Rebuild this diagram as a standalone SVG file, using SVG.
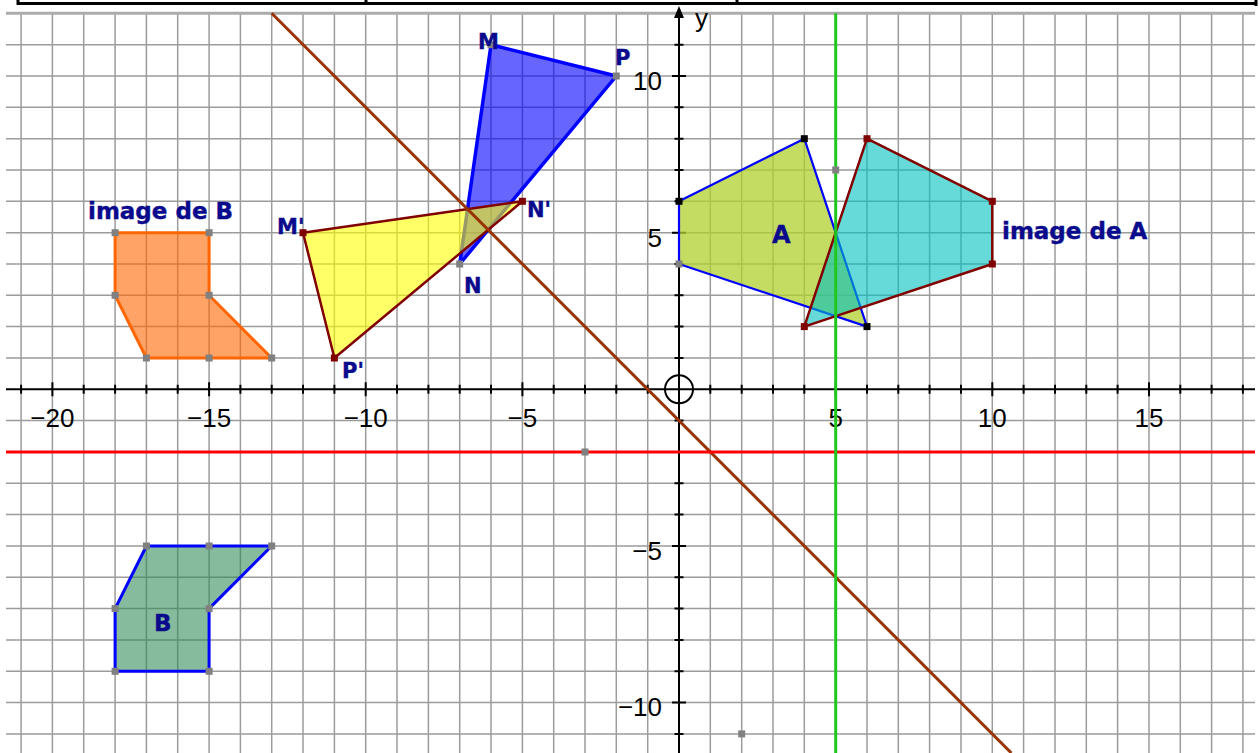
<svg xmlns="http://www.w3.org/2000/svg" width="1259" height="753" viewBox="0 0 1259 753">
<defs>
<style>
.grid{stroke:#9c9c9c;stroke-width:1.5;fill:none}
.ax{stroke:#000;stroke-width:2;fill:none}
.num{font-family:"Liberation Sans",Arial,sans-serif;font-size:26px;fill:#000}
.lbl{font-family:"DejaVu Sans",Verdana,sans-serif;font-weight:bold;fill:#0a0a8c;stroke:#0a0a8c;stroke-width:0.4}
.pg{fill:#808080}
.pk{fill:#000}
.pr{fill:#800000}
</style>
<rect id="pt" x="-3.5" y="-3.5" width="7" height="7"/>
</defs>
<rect width="1259" height="753" fill="#fff"/>
<g id="table">
<path d="M18 3.5H1256M18 0V5M366 0V5M737 0V5M1256 0V6" stroke="#000" stroke-width="3" fill="none"/>
</g>
<g id="grid">
<path class="grid" d="M21.1 13.3V753M52.4 13.3V753M83.7 13.3V753M115.1 13.3V753M146.4 13.3V753M177.7 13.3V753M209.1 13.3V753M240.4 13.3V753M271.7 13.3V753M303 13.3V753M334.4 13.3V753M365.7 13.3V753M397 13.3V753M428.4 13.3V753M459.7 13.3V753M491 13.3V753M522.4 13.3V753M553.7 13.3V753M585 13.3V753M616.3 13.3V753M647.7 13.3V753M710.3 13.3V753M741.7 13.3V753M773 13.3V753M804.3 13.3V753M835.7 13.3V753M867 13.3V753M898.3 13.3V753M929.6 13.3V753M961 13.3V753M992.3 13.3V753M1023.6 13.3V753M1055 13.3V753M1086.3 13.3V753M1117.6 13.3V753M1149 13.3V753M1180.3 13.3V753M1211.6 13.3V753M1242.9 13.3V753"/>
<path class="grid" d="M6 44.7H1255M6 76H1255M6 107.3H1255M6 138.7H1255M6 170H1255M6 201.3H1255M6 232.7H1255M6 264H1255M6 295.3H1255M6 326.6H1255M6 358H1255M6 420.6H1255M6 452H1255M6 483.3H1255M6 514.6H1255M6 546H1255M6 577.3H1255M6 608.6H1255M6 639.9H1255M6 671.3H1255M6 702.6H1255M6 733.9H1255"/>
<path d="M6 13.3H1255" stroke="#ababab" stroke-width="3" fill="none"/>
</g>
<g id="axes">
<path class="ax" d="M6 389.3H1255M679 753V16"/>
<polygon points="679,6 674,18 684,18" fill="#000"/>
<path class="ax" d="M21.1 384.8v9M83.7 384.8v9M115.1 384.8v9M146.4 384.8v9M177.7 384.8v9M240.4 384.8v9M271.7 384.8v9M303 384.8v9M334.4 384.8v9M397 384.8v9M428.4 384.8v9M459.7 384.8v9M491 384.8v9M553.7 384.8v9M585 384.8v9M616.3 384.8v9M647.7 384.8v9M710.3 384.8v9M741.7 384.8v9M773 384.8v9M804.3 384.8v9M867 384.8v9M898.3 384.8v9M929.6 384.8v9M961 384.8v9M1023.6 384.8v9M1055 384.8v9M1086.3 384.8v9M1117.6 384.8v9M1180.3 384.8v9M1211.6 384.8v9M1242.9 384.8v9"/>
<path class="ax" d="M52.4 382.3v14M209.1 382.3v14M365.7 382.3v14M522.4 382.3v14M835.7 382.3v14M992.3 382.3v14M1149 382.3v14"/>
<path class="ax" d="M674.5 44.7h9M674.5 107.3h9M674.5 138.7h9M674.5 170h9M674.5 201.3h9M674.5 264h9M674.5 295.3h9M674.5 326.6h9M674.5 358h9M674.5 420.6h9M674.5 452h9M674.5 483.3h9M674.5 514.6h9M674.5 577.3h9M674.5 608.6h9M674.5 639.9h9M674.5 671.3h9M674.5 733.9h9"/>
<path class="ax" d="M672 76h14M672 232.7h14M672 546h14M672 702.6h14"/>
<circle cx="679" cy="389.3" r="14" fill="none" stroke="#000" stroke-width="2"/>
<g class="num" text-anchor="middle">
<text x="52.4" y="427">−20</text>
<text x="209.1" y="427">−15</text>
<text x="365.7" y="427">−10</text>
<text x="522.4" y="427">−5</text>
<text x="835.7" y="427">5</text>
<text x="992.3" y="427">10</text>
<text x="1149" y="427">15</text>
</g>
<g class="num" text-anchor="end">
<text x="662" y="90">10</text>
<text x="662" y="246.5">5</text>
<text x="662" y="559.5">−5</text>
<text x="662" y="716">−10</text>
</g>
<text class="num" x="695" y="27">y</text>
</g>
<g id="shapes">
<polygon id="imageB" points="115.1,232.7 209.1,232.7 209.1,295.3 271.7,358 209.1,358 146.4,358 115.1,295.3" fill="#ff6600" fill-opacity="0.6" stroke="#ff6600" stroke-width="3" stroke-linejoin="round"/>
<polygon id="polyB" points="146.4,546 209.1,546 271.7,546 209.1,608.6 209.1,671.3 115.1,671.3 115.1,608.6" fill="#2e8b57" fill-opacity="0.58" stroke="#0000ff" stroke-width="3" stroke-linejoin="round"/>
<polygon id="MNP" points="491,44.7 459.7,264 616.3,76" fill="#0000ff" fill-opacity="0.6" stroke="#0000ff" stroke-width="3.5" stroke-linejoin="round"/>
<polygon id="MNPimage" points="303,232.7 522.4,201.3 334.4,358" fill="#ffff00" fill-opacity="0.6" stroke="#800000" stroke-width="2.5" stroke-linejoin="round"/>
<polygon id="polyA" points="679,201.3 804.3,138.7 867,326.6 679,264" fill="#b0d02e" fill-opacity="0.75" stroke="#0000ff" stroke-width="2.2" stroke-linejoin="round"/>
<polygon id="imageA" points="992.3,201.3 867,138.7 804.3,326.6 992.3,264" fill="#00c0c0" fill-opacity="0.6" stroke="#800000" stroke-width="2.5" stroke-linejoin="round"/>
</g>
<g id="connectors">
<path d="M271.7 13.3L1011.4 753" stroke="#993300" stroke-width="3" fill="none"/>
<path d="M6 452H1255" stroke="#ff0000" stroke-width="3" fill="none"/>
<path d="M835.7 13.3V753" stroke="#1ec81e" stroke-width="3" fill="none"/>
</g>
<g id="points">
<g class="pg">
<use href="#pt" x="115.1" y="232.7"/><use href="#pt" x="209.1" y="232.7"/><use href="#pt" x="209.1" y="295.3"/><use href="#pt" x="271.7" y="358"/><use href="#pt" x="209.1" y="358"/><use href="#pt" x="146.4" y="358"/><use href="#pt" x="115.1" y="295.3"/>
<use href="#pt" x="146.4" y="546"/><use href="#pt" x="209.1" y="546"/><use href="#pt" x="271.7" y="546"/><use href="#pt" x="209.1" y="608.6"/><use href="#pt" x="209.1" y="671.3"/><use href="#pt" x="115.1" y="671.3"/><use href="#pt" x="115.1" y="608.6"/>
<use href="#pt" x="679" y="264"/>
<use href="#pt" x="491" y="44.7"/><use href="#pt" x="459.7" y="264"/><use href="#pt" x="616.3" y="76"/>
<use href="#pt" x="585" y="452"/><use href="#pt" x="835.7" y="170"/><use href="#pt" x="741.7" y="733.9"/>
</g>
<g class="pk">
<use href="#pt" x="679" y="201.3"/><use href="#pt" x="804.3" y="138.7"/><use href="#pt" x="867" y="326.6"/>
</g>
<g class="pr">
<use href="#pt" x="992.3" y="201.3"/><use href="#pt" x="867" y="138.7"/><use href="#pt" x="804.3" y="326.6"/><use href="#pt" x="992.3" y="264"/>
<use href="#pt" x="303" y="232.7"/><use href="#pt" x="522.4" y="201.3"/><use href="#pt" x="334.4" y="358"/>
</g>
</g>
<g id="labels" class="lbl">
<text x="88" y="218.5" font-size="23">image de B</text>
<text x="1002" y="238.5" font-size="23">image de A</text>
<text x="772" y="243" font-size="24">A</text>
<text x="154" y="631" font-size="23">B</text>
<text x="478" y="48.5" font-size="21">M</text>
<text x="615" y="65" font-size="21">P</text>
<text x="464" y="293" font-size="21">N</text>
<text x="277" y="234" font-size="21">M'</text>
<text x="527" y="217" font-size="21">N'</text>
<text x="342" y="378" font-size="21">P'</text>
</g>
</svg>
